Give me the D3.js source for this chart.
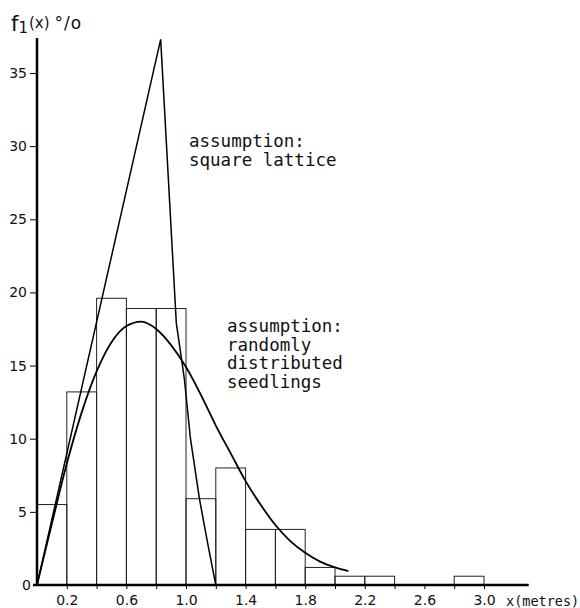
<!DOCTYPE html>
<html lang="en">
    <head>
        <meta charset="utf-8">
        <title>Nearest neighbour distance of seedlings</title>
        <script src="https://d3js.org/d3.v7.min.js"></script>
        <style>
            body { margin: 0; background: #fff; }
            text { fill: #111; }
        </style>
    </head>
    <body>
        <svg width="580" height="608"></svg>
        <script>
        // histogram: left edge of each 0.2 m class and its share in %
        var binStart = [0, 0.2, 0.4, 0.6, 0.8, 1.0, 1.2, 1.4, 1.6, 1.8, 2.0, 2.2, 2.8];
        var binPct   = [5.5, 13.2, 19.6, 18.9, 18.9, 5.9, 8.0, 3.8, 3.8, 1.2, 0.6, 0.6, 0.6];
        var binWidth = 0.2;

        // assumption: square lattice
        var latticeX = [0, 0.83, 0.935, 0.965, 0.99, 1.03, 1.09, 1.15, 1.2];
        var latticeY = [0, 37.3, 17.9, 15.8, 14.0, 10.0, 5.9, 2.6, 0];

        // assumption: randomly distributed seedlings
        var randomX = [0, 0.1, 0.2, 0.3, 0.4, 0.5, 0.6, 0.7, 0.8, 0.9, 1.0, 1.1, 1.2, 1.3, 1.4, 1.5, 1.6, 1.7, 1.8, 1.9, 2.0, 2.09];
        var randomY = [0, 4.2, 8.3, 11.8, 14.6, 16.6, 17.7, 18.0, 17.5, 16.4, 14.9, 13.0, 10.9, 9.0, 7.1, 5.5, 4.1, 3.0, 2.2, 1.6, 1.2, 0.95];

        var yTicks = [5, 10, 15, 20, 25, 30, 35];
        var xTicks = [0.2, 0.4, 0.6, 0.8, 1.0, 1.2, 1.4, 1.6, 1.8, 2.0, 2.2, 2.4, 2.6, 2.8, 3.0];
        var xLabels = [0.2, 0.6, 1.0, 1.4, 1.8, 2.2, 2.6, 3.0];

        var svg = d3.select("svg");

        var x = d3.scaleLinear().domain([0, 3.0]).range([37, 484]);
        var y = d3.scaleLinear().domain([0, 35]).range([585, 73]);

        // bars
        svg.append("g")
            .selectAll("rect")
            .data(binStart)
          .enter().append("rect")
            .attr("x", function(d) { return x(d); })
            .attr("y", function(d, i) { return y(binPct[i]); })
            .attr("width", function(d) { return x(d + binWidth) - x(d); })
            .attr("height", function(d, i) { return y(0) - y(binPct[i]); })
            .attr("fill", "none")
            .attr("stroke", "#222")
            .attr("stroke-width", 1);

        var line = d3.line()
            .x(function(d) { return x(d[0]); })
            .y(function(d) { return y(d[1]); });

        svg.append("path")
            .datum(d3.zip(latticeX, latticeY))
            .attr("fill", "none")
            .attr("stroke", "#000")
            .attr("stroke-width", 1.5)
            .attr("stroke-linejoin", "miter")
            .attr("d", line);

        svg.append("path")
            .datum(d3.zip(randomX, randomY))
            .attr("fill", "none")
            .attr("stroke", "#000")
            .attr("stroke-width", 1.8)
            .attr("d", line.curve(d3.curveMonotoneX));

        // y axis
        var yAxis = svg.append("g")
            .attr("transform", "translate(" + x(0) + ",0)")
            .call(d3.axisLeft(y).tickValues(yTicks).tickSize(7).tickPadding(3));
        yAxis.select(".domain").remove();
        yAxis.append("line")
            .attr("y1", y(0)).attr("y2", y(37.4))
            .attr("stroke", "#000").attr("stroke-width", 2.5);
        svg.append("text")
            .attr("x", 31).attr("y", y(0) + 5)
            .attr("text-anchor", "end")
            .attr("font-family", "DejaVu Sans")
            .attr("font-size", 14)
            .text("0");

        // x axis
        var xAxis = svg.append("g")
            .attr("transform", "translate(0," + y(0) + ")")
            .call(d3.axisBottom(x).tickValues(xTicks).tickSize(4)
                .tickFormat(function(d) { return xLabels.indexOf(d) >= 0 ? d3.format(".1f")(d) : ""; })
                .tickPadding(6));
        xAxis.select(".domain").remove();
        xAxis.append("line")
            .attr("x1", x(0) - 4).attr("x2", x(3.3))
            .attr("stroke", "#000").attr("stroke-width", 2.5);

        svg.selectAll(".tick text")
            .attr("font-family", "DejaVu Sans")
            .attr("font-size", 14)
            .attr("fill", "#111");
        svg.selectAll(".tick line").attr("stroke", "#000");

        svg.append("text")
            .attr("x", 506).attr("y", 606)
            .attr("font-family", "DejaVu Sans Mono")
            .attr("font-size", 13.5)
            .text("x(metres)");

        // y label f1(x) %
        var yl = svg.append("text")
            .attr("x", 11).attr("y", 31)
            .attr("font-family", "DejaVu Sans");
        yl.append("tspan").attr("font-size", 21).text("f");
        yl.append("tspan").attr("font-size", 15).attr("dy", 2).text("1");
        yl.append("tspan").attr("font-size", 15).attr("dy", -5).attr("dx", 1).text("(x)");
        yl.append("tspan").attr("font-size", 17).attr("dy", 1).attr("dx", 5)
            .attr("letter-spacing", 1).text("°/o");

        // annotations
        function label(lines, x0, y0) {
            svg.append("g").selectAll("text")
                .data(lines)
              .enter().append("text")
                .attr("x", x0)
                .attr("y", function(d, i) { return y0 + i * 18.5; })
                .attr("font-family", "DejaVu Sans Mono")
                .attr("font-size", 17.5)
                .text(function(d) { return d; });
        }
        label(["assumption:", "square lattice"], 189, 147);
        label(["assumption:", "randomly", "distributed", "seedlings"], 227, 332);
        </script>
    </body>
</html>
